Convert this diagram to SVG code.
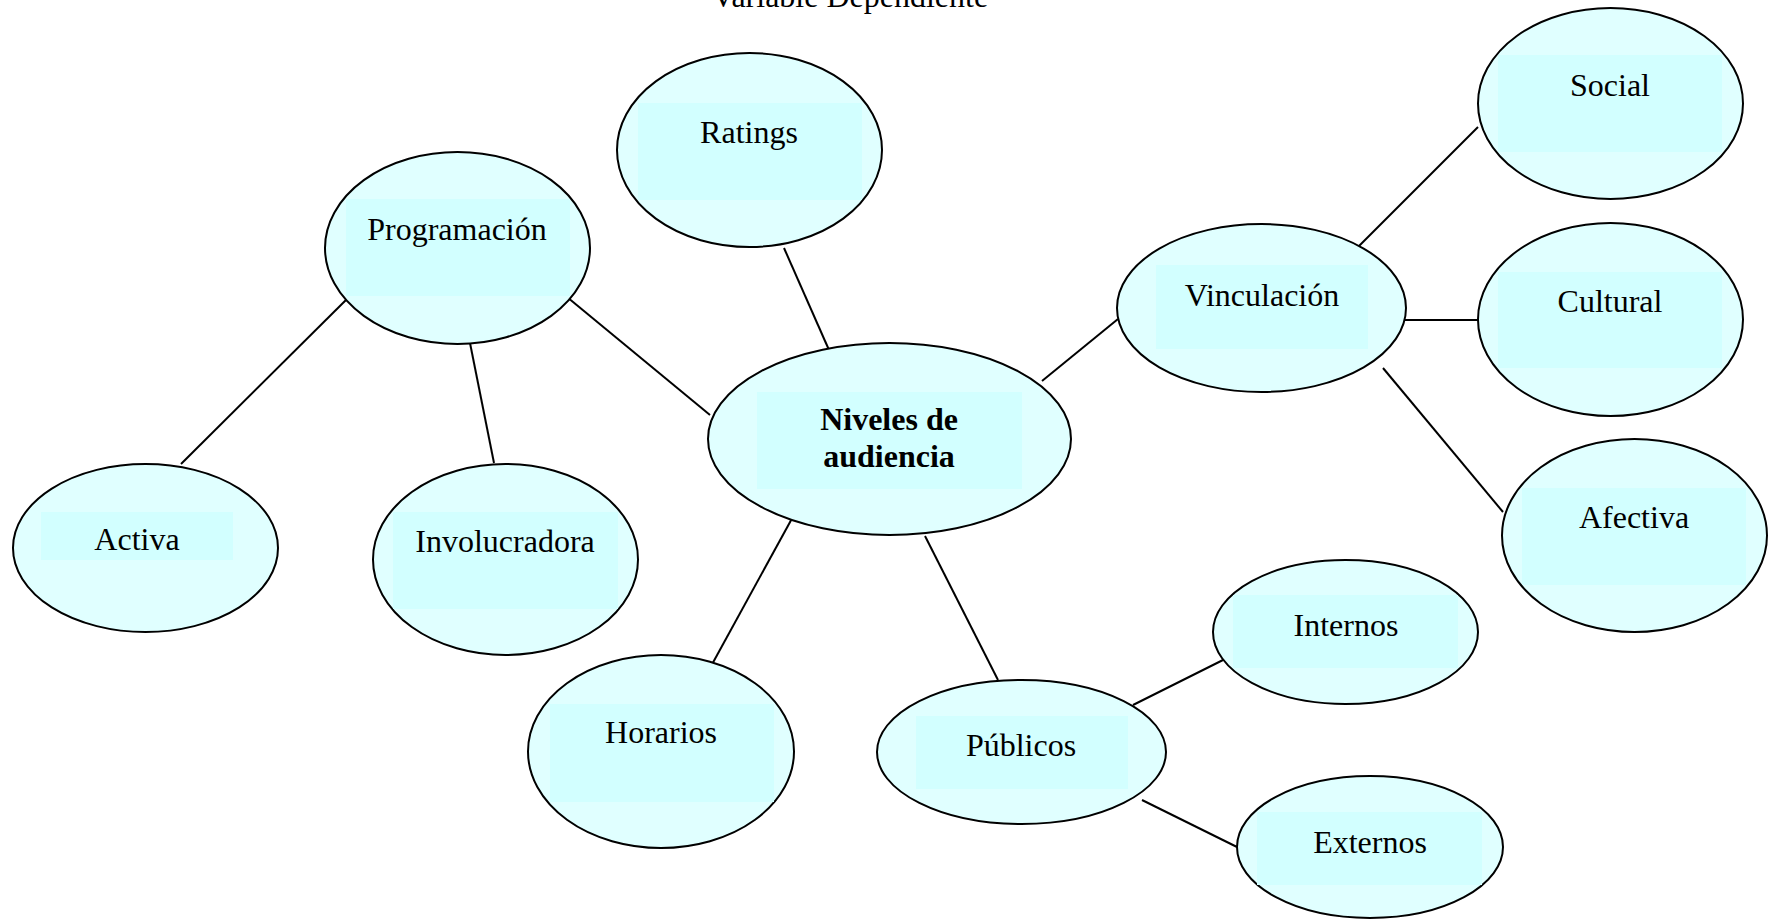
<svg xmlns="http://www.w3.org/2000/svg" width="1776" height="920" viewBox="0 0 1776 920">
<style>
  .bg { fill: #ffffff; }
  .node ellipse { fill: #E0FFFF; stroke: #000000; stroke-width: 2; }
  .node rect { fill: #D2FFFF; stroke: none; }
  text { font-family: "Liberation Serif", "Times New Roman", serif; font-size: 32px; fill: #000000; text-anchor: middle; }
  .bold { font-weight: bold; }
  .edges line { stroke: #000000; stroke-width: 2; }
</style>
<rect class="bg" x="0" y="0" width="1776" height="920"/>
<text x="850" y="7">Variable Dependiente</text>

<g class="edges" id="connectors">
  <line x1="784" y1="248" x2="829" y2="350"/>
  <line x1="567" y1="297" x2="710" y2="415"/>
  <line x1="350" y1="296" x2="181" y2="464"/>
  <line x1="470" y1="343" x2="494" y2="463"/>
  <line x1="795" y1="513" x2="710" y2="668"/>
  <line x1="925" y1="536" x2="998" y2="680"/>
  <line x1="1042" y1="381" x2="1118" y2="319"/>
  <line x1="1358" y1="247" x2="1478" y2="127"/>
  <line x1="1405" y1="320" x2="1478" y2="320"/>
  <line x1="1383" y1="368" x2="1503" y2="512"/>
  <line x1="1133" y1="705" x2="1231" y2="656"/>
  <line x1="1142" y1="800" x2="1237" y2="847"/>
</g>

<g class="node" id="ratings">
  <ellipse cx="749.5" cy="150" rx="132.5" ry="97"/>
  <rect x="638" y="103" width="224" height="97"/>
  <text x="749" y="143">Ratings</text>
</g>

<g class="node" id="programacion">
  <ellipse cx="457.5" cy="248" rx="132.5" ry="96"/>
  <rect x="346" y="199" width="224" height="97"/>
  <text x="457" y="240">Programación</text>
</g>

<g class="node" id="niveles">
  <ellipse cx="889.5" cy="439" rx="181.5" ry="96"/>
  <rect x="757" y="392" width="265" height="97"/>
  <text class="bold" x="889" y="430">Niveles de</text>
  <text class="bold" x="889" y="467">audiencia</text>
</g>

<g class="node" id="vinculacion">
  <ellipse cx="1261.5" cy="308" rx="144.5" ry="84"/>
  <rect x="1156" y="265" width="212" height="84"/>
  <text x="1262" y="306">Vinculación</text>
</g>

<g class="node" id="activa">
  <ellipse cx="145.5" cy="548" rx="132.5" ry="84"/>
  <rect x="41" y="512" width="192" height="48"/>
  <text x="137" y="550">Activa</text>
</g>

<g class="node" id="involucradora">
  <ellipse cx="505.5" cy="559.5" rx="132.5" ry="95.5"/>
  <rect x="393" y="512" width="225" height="97"/>
  <text x="505" y="552">Involucradora</text>
</g>

<g class="node" id="horarios">
  <ellipse cx="661" cy="751.5" rx="133" ry="96.5"/>
  <rect x="550" y="704" width="224" height="98"/>
  <text x="661" y="743">Horarios</text>
</g>

<g class="node" id="publicos">
  <ellipse cx="1021.5" cy="752" rx="144.5" ry="72"/>
  <rect x="916" y="716" width="212" height="73"/>
  <text x="1021" y="756">Públicos</text>
</g>

<g class="node" id="social">
  <ellipse cx="1610.5" cy="103.5" rx="132.5" ry="95.5"/>
  <rect x="1498" y="55" width="224" height="97"/>
  <text x="1610" y="96">Social</text>
</g>

<g class="node" id="cultural">
  <ellipse cx="1610.5" cy="319.5" rx="132.5" ry="96.5"/>
  <rect x="1498" y="272" width="224" height="96"/>
  <text x="1610" y="312">Cultural</text>
</g>

<g class="node" id="afectiva">
  <ellipse cx="1634.5" cy="535.5" rx="132.5" ry="96.5"/>
  <rect x="1522" y="488" width="224" height="97"/>
  <text x="1634" y="528">Afectiva</text>
</g>

<g class="node" id="internos">
  <ellipse cx="1345.5" cy="632" rx="132.5" ry="72"/>
  <rect x="1233" y="595" width="225" height="73"/>
  <text x="1346" y="636">Internos</text>
</g>

<g class="node" id="externos">
  <ellipse cx="1370" cy="847" rx="133" ry="71"/>
  <rect x="1257" y="812" width="225" height="73"/>
  <text x="1370" y="853">Externos</text>
</g>
</svg>
